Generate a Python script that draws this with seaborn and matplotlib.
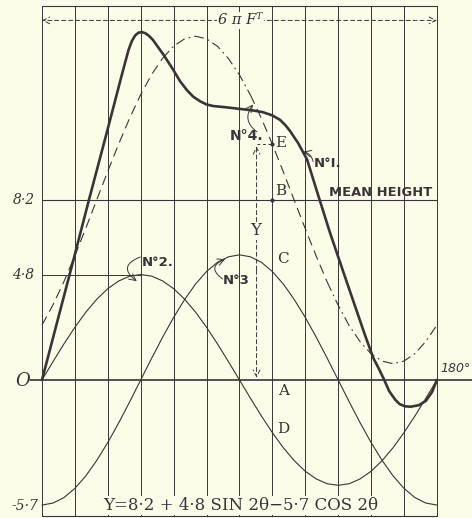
import numpy as np
import pandas as pd
import matplotlib
matplotlib.use("Agg")
import matplotlib.pyplot as plt
import seaborn as sns

sns.set_theme(style="white")
plt.rcParams["lines.scale_dashes"] = False

INK = "#3b3338"
PAPER = "#fbfde9"

# ── data ─────────────────────────────────────────────────────────────────────
theta = list(range(0, 181, 5))

# No.2  4.8 sin 2θ
no2 = [0, 0.83, 1.64, 2.4, 3.09, 3.68, 4.16, 4.51, 4.73, 4.8, 4.73, 4.51, 4.16,
       3.68, 3.09, 2.4, 1.64, 0.83, 0, -0.83, -1.64, -2.4, -3.09, -3.68, -4.16,
       -4.51, -4.73, -4.8, -4.73, -4.51, -4.16, -3.68, -3.09, -2.4, -1.64, -0.83, 0]
# No.3  -5.7 cos 2θ
no3 = [-5.7, -5.61, -5.36, -4.94, -4.37, -3.66, -2.85, -1.95, -0.99, 0, 0.99, 1.95,
       2.85, 3.66, 4.37, 4.94, 5.36, 5.61, 5.7, 5.61, 5.36, 4.94, 4.37, 3.66, 2.85,
       1.95, 0.99, 0, -0.99, -1.95, -2.85, -3.66, -4.37, -4.94, -5.36, -5.61, -5.7]
# No.4  Y = 8.2 + 4.8 sin 2θ - 5.7 cos 2θ
no4 = [2.5, 3.42, 4.48, 5.66, 6.92, 8.22, 9.51, 10.76, 11.94, 13.0, 13.92, 14.66,
       15.21, 15.54, 15.66, 15.54, 15.2, 14.64, 13.9, 12.98, 11.92, 10.74, 9.48,
       8.18, 6.89, 5.64, 4.46, 3.4, 2.48, 1.74, 1.19, 0.86, 0.74, 0.86, 1.2, 1.76, 2.5]

# No.1  actual profile (thick)
no1_theta = [0, 13.5, 21.4, 30, 36, 38, 39.5, 41, 42.5, 44, 45.5, 47, 48.5, 50.5, 53,
             55.5, 59.7, 63, 66.1, 69, 72, 75, 78, 84, 90, 96, 100.7, 105, 108.5, 111,
             113, 115, 116.7, 120.8, 125.3, 131.3, 138.1, 147.2, 151, 153.6, 156,
             158.2, 161, 163, 165.4, 168, 171.8, 175, 177.8, 180]
no1 = [0, 5.15, 8.2, 11.45, 13.75, 14.5, 15.05, 15.45, 15.7, 15.82, 15.85, 15.8, 15.7,
       15.5, 15.15, 14.8, 14.15, 13.6, 13.2, 12.9, 12.7, 12.55, 12.48, 12.42, 12.35,
       12.28, 12.2, 12.05, 11.85, 11.6, 11.35, 11.05, 10.8, 10.05, 8.6, 6.7, 4.7,
       2.05, 1.0, 0.5, 0.0, -0.5, -0.9, -1.1, -1.2, -1.22, -1.15, -0.95, -0.55, 0]

grid_deg = list(range(0, 181, 15))
mean_height = 8.2
amp_sin = 4.8
e_theta = 105
e_value = 10.74
y_dim_theta = 97.8

# ── figure ───────────────────────────────────────────────────────────────────
fig = plt.figure(figsize=(4.72, 5.18), dpi=100, facecolor=PAPER)
ax = fig.add_axes([0, 0, 1, 1])
ax.set_facecolor(PAPER)
ax.set_xlim(-19.14, 196.0)
ax.set_ylim(-6.29, 17.31)
ax.axis("off")

top, bottom = 17.04, -6.2

# frame and grid
for g in grid_deg:
    ax.plot([g, g], [bottom, top], color=INK, lw=0.7)
ax.plot([0, 180], [top, top], color=INK, lw=0.8)
ax.plot([0, 180], [bottom, bottom], color=INK, lw=0.8)
ax.plot([-5.5, 196], [0, 0], color=INK, lw=1.2)
ax.plot([0, 180], [mean_height, mean_height], color=INK, lw=0.8)
ax.plot([0, 45], [amp_sin, amp_sin], color=INK, lw=0.7)

# curves
def draw(xs, ys, lw, ls="-"):
    sns.lineplot(x=xs, y=ys, ax=ax, color=INK, linewidth=lw, linestyle=ls,
                 sort=False, estimator=None, legend=False)

draw(theta, no2, 0.8)
draw(theta, no3, 0.8)

dash = (0, (7, 4))
dashdot = (0, (7, 3, 1.2, 3))
for a, b, ls in [(0, 12, dash), (11, 20, dashdot), (19, 27, dash), (26, 37, dashdot)]:
    draw(theta[a:b], no4[a:b], 0.8, ls)

draw(no1_theta, no1, 1.9)

# 6π ft span
span_v = 16.38
for end in (0, 180):
    ax.annotate("", xy=(end, span_v), xytext=(90, span_v),
                arrowprops=dict(arrowstyle="->", color=INK, lw=0.7, linestyle=(0, (3, 2)),
                                shrinkA=0, shrinkB=0))
ax.text(90.5, span_v, "6 π Fᵀ", ha="center", va="center", fontsize=10.5,
        style="italic", color=INK, family=["DejaVu Serif", "DejaVu Sans"],
        bbox=dict(facecolor=PAPER, edgecolor="none", pad=1))

# Y dimension
ax.annotate("", xy=(y_dim_theta, 0.1), xytext=(y_dim_theta, 5),
            arrowprops=dict(arrowstyle="->", color=INK, lw=0.7, linestyle=(0, (3, 2)),
                            shrinkA=0, shrinkB=0))
ax.annotate("", xy=(y_dim_theta, e_value - 0.1), xytext=(y_dim_theta, 5),
            arrowprops=dict(arrowstyle="->", color=INK, lw=0.7, linestyle=(0, (3, 2)),
                            shrinkA=0, shrinkB=0))
ax.plot([y_dim_theta, e_theta], [e_value, e_value], color=INK, lw=0.7, ls=(0, (2, 2)))
ax.text(97.5, 6.8, "Y", ha="center", va="center", fontsize=12, color=INK,
        family="DejaVu Serif", bbox=dict(facecolor=PAPER, edgecolor="none", pad=0.5))

ax.scatter([e_theta, e_theta], [e_value, mean_height], s=4, color=INK, zorder=3)

serif = dict(color=INK, family="DejaVu Serif", fontsize=11, va="center", ha="left")
ax.text(106.5, 10.8, "E", **serif)
ax.text(106.5, 8.6, "B", **serif)
ax.text(107.2, 5.5, "C", **serif)
ax.text(107.5, -0.5, "A", **serif)
ax.text(107.2, -2.24, "D", **serif)

# axis labels
lab = dict(color=INK, family="DejaVu Serif", style="italic", fontsize=10,
           va="center", ha="right")
ax.text(-3.2, 8.2, "8·2", **lab)
ax.text(-3.6, 4.8, "4·8", **lab)
ax.text(-5.6, -0.05, "O", fontsize=13, color=INK, family="DejaVu Serif",
        style="italic", va="center", ha="right")
ax.text(-1.6, -5.75, "-5·7", **lab)
ax.text(181.8, 0.5, "180°", color=INK, family="DejaVu Sans", style="italic",
        fontsize=9, va="center", ha="left")

bold = dict(color=INK, family="DejaVu Sans", weight="bold", va="center", ha="left")
ax.text(130.6, 8.55, "MEAN HEIGHT", fontsize=9.4, **bold)
ax.text(124.0, 9.85, "N°I.", fontsize=9.5, **bold)
ax.text(85.6, 11.1, "N°4.", fontsize=10, **bold)
ax.text(45.5, 5.35, "N°2.", fontsize=9.5, **bold)
ax.text(82.5, 4.55, "N°3", fontsize=9.5, **bold)

# leaders
ax.annotate("", xy=(119.2, 10.4), xytext=(123.6, 9.95),
            arrowprops=dict(arrowstyle="->", color=INK, lw=0.7,
                            connectionstyle="arc3,rad=0.3", shrinkA=0, shrinkB=0))
ax.annotate("", xy=(96.2, 12.55), xytext=(98.0, 11.3),
            arrowprops=dict(arrowstyle="->", color=INK, lw=0.7,
                            connectionstyle="arc3,rad=-0.5", shrinkA=0, shrinkB=0))
ax.annotate("", xy=(43.2, 4.5), xytext=(44.8, 5.6),
            arrowprops=dict(arrowstyle="->", color=INK, lw=0.7,
                            connectionstyle="arc3,rad=0.9", shrinkA=0, shrinkB=0))
ax.annotate("", xy=(83.5, 5.5), xytext=(82.3, 4.6),
            arrowprops=dict(arrowstyle="->", color=INK, lw=0.7,
                            connectionstyle="arc3,rad=-0.9", shrinkA=0, shrinkB=0))

# formula
ax.text(90.5, -5.72, "Y=8·2 + 4·8 SIN 2θ−5·7 COS 2θ", ha="center", va="center",
        fontsize=12, color=INK, family="DejaVu Serif",
        bbox=dict(facecolor=PAPER, edgecolor="none", pad=0.5))

fig.savefig("out.png", dpi=100, facecolor=PAPER)
